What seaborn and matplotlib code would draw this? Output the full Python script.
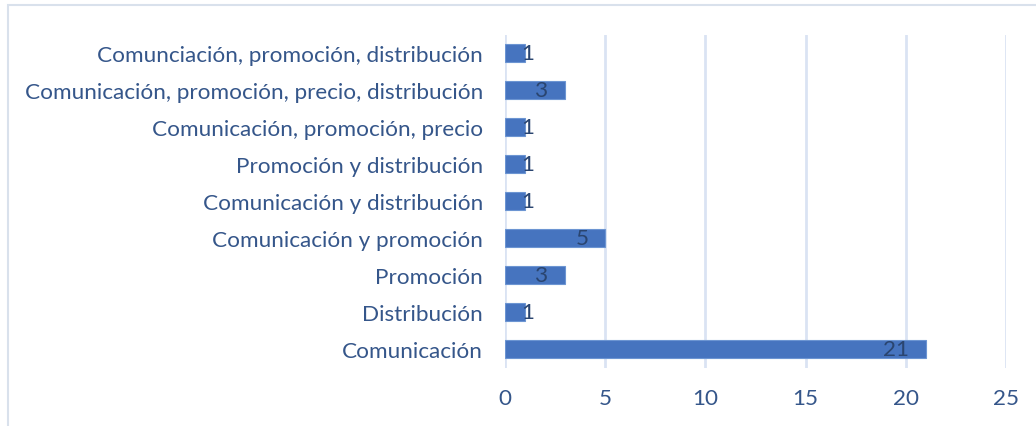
import matplotlib
matplotlib.use("Agg")
import matplotlib.pyplot as plt
from matplotlib.patches import Rectangle
import seaborn as sns
import pandas as pd

categories = [
    "Comunciación, promoción, distribución",
    "Comunicación, promoción, precio, distribución",
    "Comunicación, promoción, precio",
    "Promoción y distribución",
    "Comunicación y distribución",
    "Comunicación y promoción",
    "Promoción",
    "Distribución",
    "Comunicación",
]
values = [1, 3, 1, 1, 1, 5, 3, 1, 21]
xticks = [0, 5, 10, 15, 20, 25]

df = pd.DataFrame({"cat": categories, "val": values})

sns.set_theme(style="white")
plt.rcParams["font.family"] = ["Lato", "DejaVu Sans"]

text_col = "#35568A"
fs = 16.2
fig = plt.figure(figsize=(10.36, 4.27), dpi=100)
ax = fig.add_axes([505 / 1036, 1 - 368.5 / 427, (1006 - 505) / 1036, (368.5 - 35.5) / 427])

sns.barplot(data=df, y="cat", x="val", orient="h", color="#4674BF", saturation=1,
            width=0.5, edgecolor="#6C95D2", linewidth=0.8, ax=ax, zorder=3)

ax.set_xlim(0, 25)
ax.set_xticks(xticks)
ax.set_xlabel("")
ax.set_ylabel("")
for s in ax.spines.values():
    s.set_visible(False)
ax.grid(axis="x", color="#DAE3F3", linewidth=2, zorder=0)
ax.grid(axis="y", visible=False)
ax.tick_params(axis="x", length=0, pad=15, labelsize=fs, labelcolor=text_col)
ax.tick_params(axis="y", length=0, pad=16, labelsize=fs, labelcolor=text_col)

for i, v in enumerate(values):
    if v <= 1:
        ax.annotate(str(v), (v, i), xytext=(2, 0), textcoords="offset points",
                    ha="center", va="center", fontsize=fs, color="#2A4570", zorder=4)
    else:
        ax.annotate(str(v), (v, i), xytext=(-12, 0), textcoords="offset points",
                    ha="right", va="center", fontsize=fs, color="#2A4570", zorder=4)

fig.patches.append(Rectangle((8 / 1036, -0.1), 1.2, 1 - 6 / 427 + 0.1,
                             transform=fig.transFigure, fill=False,
                             edgecolor="#D9E1EC", linewidth=1.5))

fig.savefig("out.png", dpi=100)
